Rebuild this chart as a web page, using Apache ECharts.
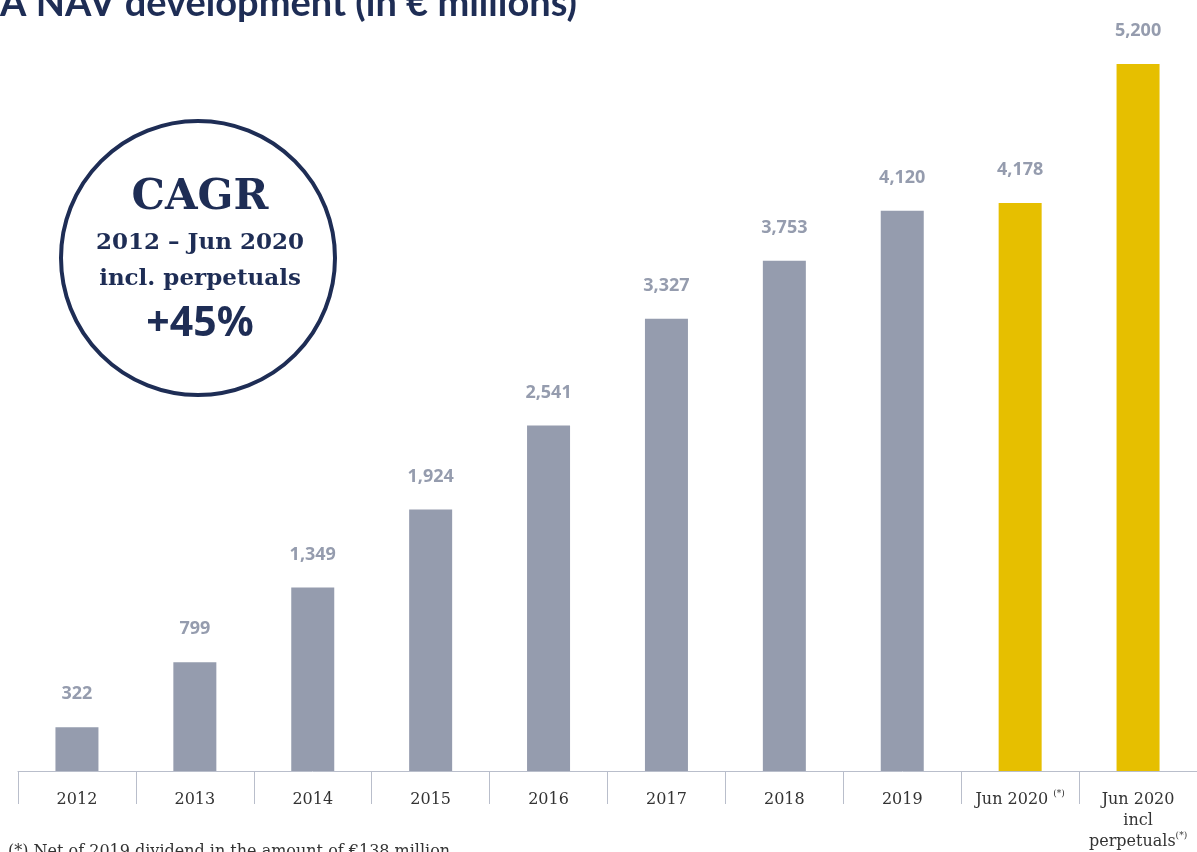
<!DOCTYPE html>
<html>
<head>
<meta charset="utf-8">
<title>NAV development</title>
<script src="https://cdn.jsdelivr.net/npm/echarts@6/dist/echarts.min.js"></script>
<style>
  html, body { margin: 0; padding: 0; background: #fff; }
  #main { width: 1197px; height: 852px; }
</style>
</head>
<body>
<div id="main"></div>
<script>
// data
var categories = ['2012', '2013', '2014', '2015', '2016', '2017', '2018', '2019', 'Jun 2020', 'Jun 2020 incl perpetuals'];
var navValues = [322, 799, 1349, 1924, 2541, 3327, 3753, 4120, 4178, 5200];
var starred = ['Jun 2020', 'Jun 2020 incl perpetuals']; // categories with the (*) note

var NAVY = '#1e2d55';
var GREY_BAR = '#959cae';
var YELLOW = '#e6bf00';
var AXIS = '#b9becb';

var myChart = echarts.init(document.getElementById('main'));

var option = {
  animation: false,
  grid: { left: 18, right: -2, top: 64, bottom: 80 },
  xAxis: {
    type: 'category',
    data: categories,
    axisLine: { lineStyle: { color: AXIS, width: 1 } },
    axisTick: { show: true, length: 33, lineStyle: { color: AXIS } },
    axisLabel: {
      margin: 18,
      interval: 0,
      color: '#333',
      fontFamily: 'DejaVu Serif',
      fontSize: 16,
      lineHeight: 21,
      formatter: function (v) {
        if (v === 'Jun 2020 incl perpetuals') {
          return '{a|Jun 2020}\n{a|incl}\n{a|perpetuals}{s|(*)}';
        }
        if (starred.indexOf(v) >= 0) {
          return '{a|' + v + '} {s|(*)}';
        }
        return '{a|' + v + '}';
      },
      rich: {
        a: { fontFamily: 'DejaVu Serif', fontSize: 16, color: '#333', lineHeight: 21 },
        s: { fontFamily: 'DejaVu Serif', fontSize: 9, color: '#333', verticalAlign: 'top', lineHeight: 21 }
      }
    }
  },
  yAxis: {
    type: 'value',
    min: 0,
    max: 5200,
    show: false,
    splitLine: { show: false }
  },
  series: [
    {
      type: 'bar',
      barWidth: 43,
      data: navValues,
      itemStyle: {
        color: function (p) {
          return starred.indexOf(p.name) >= 0 ? YELLOW : GREY_BAR;
        }
      },
      label: {
        show: true,
        position: 'top',
        distance: 24,
        color: '#959cae',
        fontFamily: 'Noto Sans',
        fontWeight: 'bold',
        fontSize: 18,
        formatter: function (p) {
          return p.value.toLocaleString('en-US');
        }
      }
    }
  ],
  graphic: [
    {
      type: 'text',
      left: 0,
      top: -15,
      style: {
        text: 'A NAV development (in € millions)',
        fill: NAVY,
        font: 'bold 38px Lato'
      }
    },
    {
      type: 'circle',
      shape: { cx: 198, cy: 258, r: 137 },
      style: { fill: '#fff', stroke: NAVY, lineWidth: 4 }
    },
    {
      type: 'text',
      x: 200, y: 198,
      style: { text: 'CAGR', fill: NAVY, font: 'bold 42px "DejaVu Serif"', align: 'center', verticalAlign: 'middle' }
    },
    {
      type: 'text',
      x: 200, y: 243,
      style: { text: '2012 – Jun 2020', fill: NAVY, font: 'bold 23px "DejaVu Serif"', align: 'center', verticalAlign: 'middle' }
    },
    {
      type: 'text',
      x: 200, y: 279,
      style: { text: 'incl. perpetuals', fill: NAVY, font: 'bold 23px "DejaVu Serif"', align: 'center', verticalAlign: 'middle' }
    },
    {
      type: 'text',
      x: 200, y: 324,
      style: { text: '+45%', fill: NAVY, font: 'bold 41px "Noto Sans"', align: 'center', verticalAlign: 'middle' }
    },
    {
      type: 'text',
      x: 8, y: 852,
      style: { text: '(*) Net of 2019 dividend in the amount of €138 million', fill: '#333', font: '16px "DejaVu Serif"', align: 'left', verticalAlign: 'middle' }
    }
  ]
};

myChart.setOption(option);
</script>
</body>
</html>
